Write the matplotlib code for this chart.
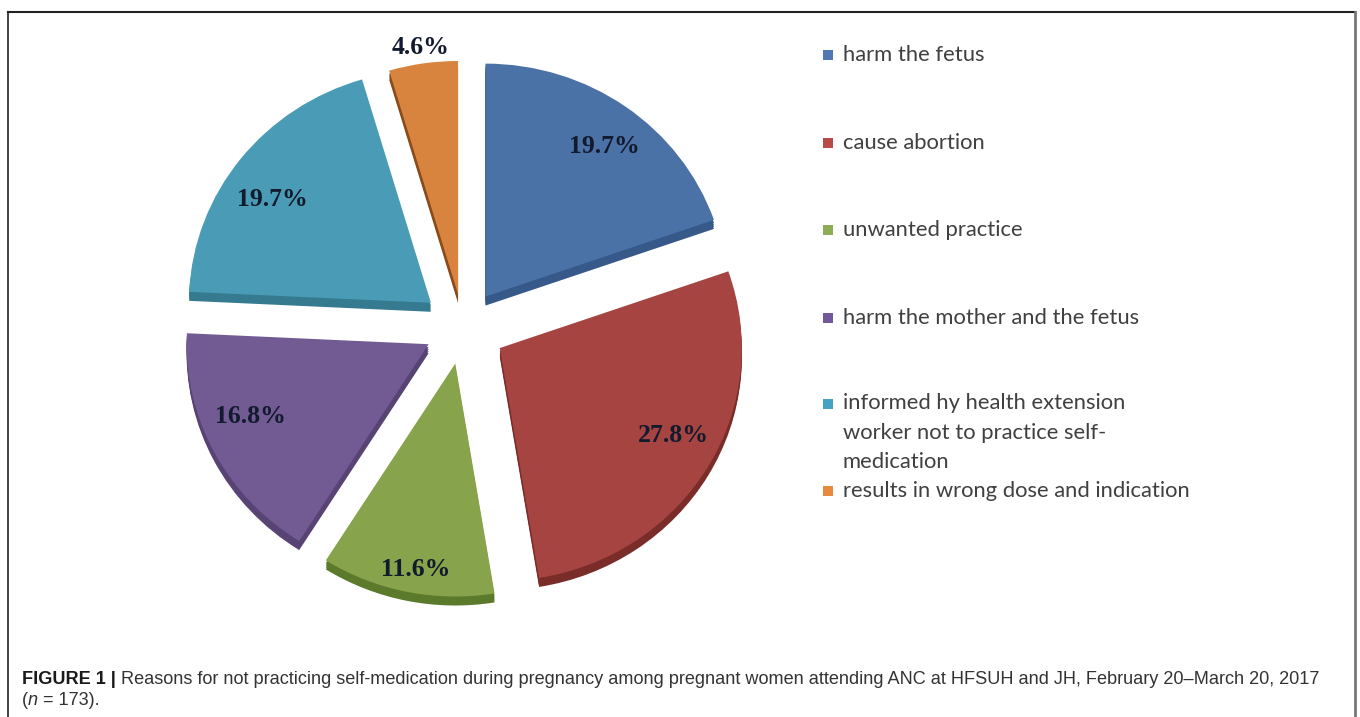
import matplotlib
matplotlib.use("Agg")
import matplotlib.pyplot as plt
import numpy as np
from matplotlib.patches import Rectangle
from matplotlib import font_manager

# ---------------- data ----------------
categories = ["harm the fetus",
              "cause abortion",
              "unwanted practice",
              "harm the mother and the fetus",
              "informed hy health extension\nworker not to practice self-\nmedication",
              "results in wrong dose and indication"]
values = [19.7, 27.8, 11.6, 16.8, 19.7, 4.6]
pct_labels = ["19.7%", "27.8%", "11.6%", "16.8%", "19.7%", "4.6%"]
caption_line1 = [("FIGURE 1 |", "bold"),
                 (" Reasons for not practicing self-medication during pregnancy among pregnant women "
                  "attending ANC at HFSUH and JH, February 20\u2013March 20, 2017", "normal")]
caption_line2 = [("(", "normal"), ("n", "italic"), (" = 173).", "normal")]

# ---------------- style ----------------
top_colors = ["#4A72A6", "#A64441", "#87A34B", "#725A92", "#4A9CB6", "#D8843E"]
side_colors = ["#37598A", "#7A2C29", "#5C7A2C", "#574374", "#357A8E", "#8A4A1A"]
legend_colors = ["#4F78B5", "#B84A48", "#8EAE55", "#73589A", "#45A2C0", "#E88A3E"]

available = {f.name for f in font_manager.fontManager.ttflist}
cap_family = "Liberation Sans Narrow" if "Liberation Sans Narrow" in available else "Liberation Sans"

W, H = 1360, 717
fig = plt.figure(figsize=(W / 100, H / 100), dpi=100)

# pie axes (slightly squashed vertically, like the 3D tilt of the original)
sx, sy = 1.019, 0.981
axp = fig.add_axes([0, 0, 1, 1])
cx, cy = 463 / sx, (H - 327) / sy
R = 237.5
explode = [38, 42, 38, 38, 40, 34]

for d in [9, 7, 5, 3]:
    axp.pie(values, explode=explode, colors=side_colors, startangle=90,
            counterclock=False, radius=R, center=(cx, cy - d / sy), normalize=True,
            frame=True, wedgeprops=dict(linewidth=0))

wedges, _ = axp.pie(values, explode=explode, colors=top_colors, startangle=90,
                    counterclock=False, radius=R, center=(cx, cy), normalize=True,
                    frame=True, wedgeprops=dict(linewidth=0))
axp.set_xlim(0, W / sx)
axp.set_ylim(0, H / sy)
axp.set_aspect("auto")
axp.axis("off")

label_dist = [0.81, 0.81, 0.90, 0.80, 0.79, 1.07]
label_dtheta = [-2, 3, 1, -4.5, 4, 0]
for w, lab, fr, dt in zip(wedges, pct_labels, label_dist, label_dtheta):
    th = np.deg2rad((w.theta1 + w.theta2) / 2 + dt)
    x = w.center[0] + fr * R * np.cos(th)
    y = w.center[1] + fr * R * np.sin(th)
    axp.text(x, y, lab, ha="center", va="center", fontsize=18.5,
             fontweight="bold", family="Liberation Serif", color="#121a2e")

# overlay axes in pixel coordinates for legend, caption, border
ax = fig.add_axes([0, 0, 1, 1])
ax.set_xlim(0, W)
ax.set_ylim(0, H)
ax.axis("off")

leg_x = 823
leg_base = [61, 149, 236, 324, 410, 497]
line_px = 29
for lab, col, yb in zip(categories, legend_colors, leg_base):
    ax.add_patch(Rectangle((leg_x, H - yb + 1), 10, 10, color=col, lw=0))
    nlines = lab.count("\n")
    ax.text(leg_x + 20, H - yb - nlines * line_px, lab, ha="left", va="baseline",
            fontsize=15.8, family="Lato", color="#404040", linespacing=1.58)

# caption
fig.canvas.draw()
rend = fig.canvas.get_renderer()


def draw_runs(runs, x0, ybase, size):
    x = x0
    for s, style in runs:
        t = ax.text(x, H - ybase, s, ha="left", va="baseline", fontsize=size,
                    family=cap_family, color="#1a1a1a" if style == "bold" else "#333333",
                    fontweight="bold" if style == "bold" else "normal",
                    fontstyle="italic" if style == "italic" else "normal")
        bb = t.get_window_extent(renderer=rend)
        x = ax.transData.inverted().transform((bb.x1, 0))[0]


cap_size = 14 if cap_family != "Liberation Sans" else 13.1
draw_runs(caption_line1, 22, 684, cap_size)
draw_runs(caption_line2, 22, 705, cap_size)

# border
ax.plot([7.5, 7.5], [0, H - 11.5], color="#222222", lw=1.2)
ax.plot([7.5, 1355], [H - 11.5, H - 11.5], color="#222222", lw=1.5)
ax.plot([1355, 1355], [0, H - 11.5], color="#777777", lw=2)

fig.savefig("out.png", dpi=100)
